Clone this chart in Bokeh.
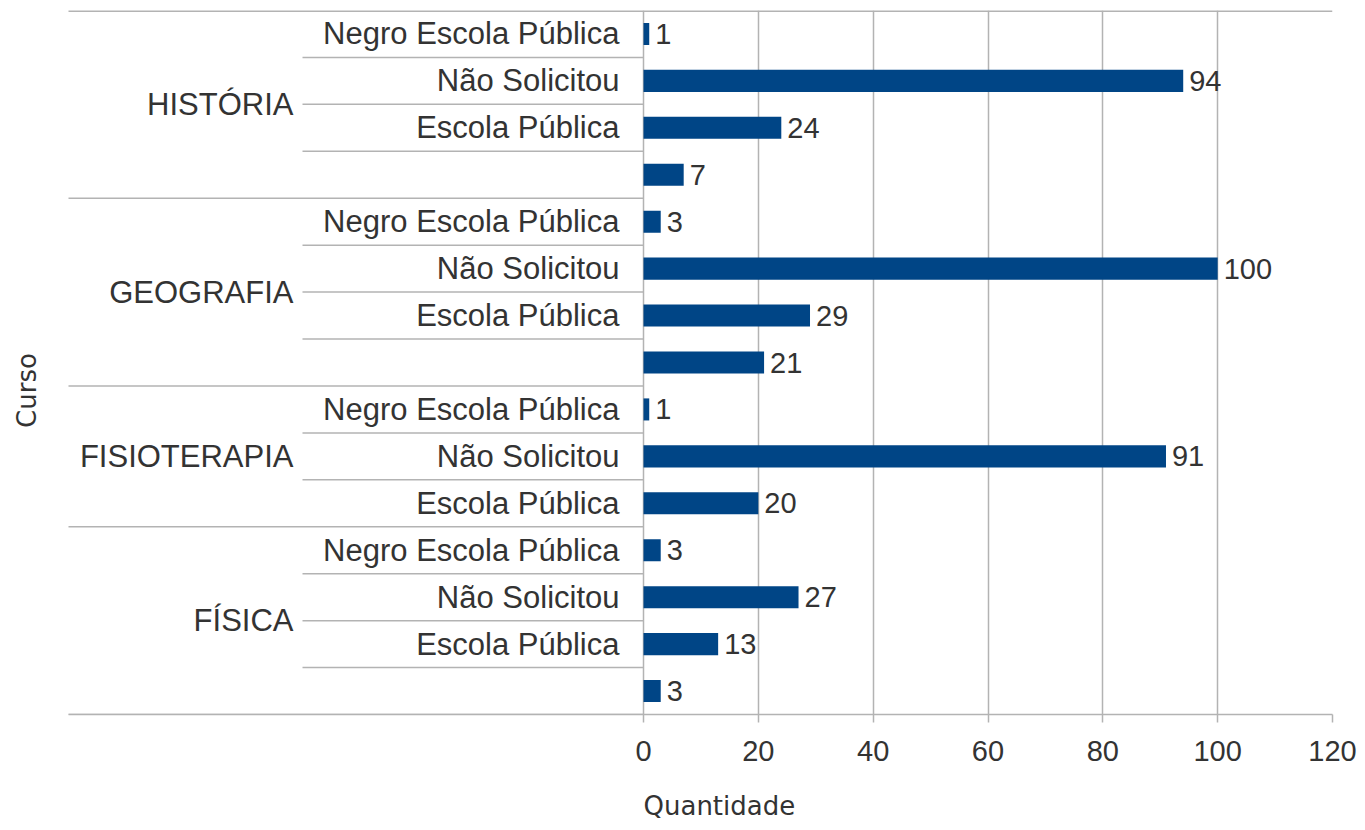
import math
from bokeh.plotting import figure
from bokeh.layouts import column
from bokeh.models import Range1d, FixedTicker, ColumnDataSource
from bokeh.core.properties import value
from bokeh.embed import file_html
from bokeh.resources import INLINE

# ---- data ----
cursos = ["HISTÓRIA", "GEOGRAFIA", "FISIOTERAPIA", "FÍSICA"]
historia_cats = ["Negro Escola Pública", "Não Solicitou", "Escola Pública", ""]
historia_vals = [1, 94, 24, 7]
geografia_cats = ["Negro Escola Pública", "Não Solicitou", "Escola Pública", ""]
geografia_vals = [3, 100, 29, 21]
fisioterapia_cats = ["Negro Escola Pública", "Não Solicitou", "Escola Pública"]
fisioterapia_vals = [1, 91, 20]
fisica_cats = ["Negro Escola Pública", "Não Solicitou", "Escola Pública", ""]
fisica_vals = [3, 27, 13, 3]
x_ticks = [0, 20, 40, 60, 80, 100, 120]
x_title = "Quantidade"
y_title = "Curso"

groups = [
    (cursos[0], historia_cats, historia_vals),
    (cursos[1], geografia_cats, geografia_vals),
    (cursos[2], fisioterapia_cats, fisioterapia_vals),
    (cursos[3], fisica_cats, fisica_vals),
]

# ---- build rows ----
rows_y, rows_v, rows_lab, rows_txt = [], [], [], []
grp_y, grp_lab = [], []
grp_sep, sub_sep = [], []
i = 0
for name, cats, vals in groups:
    start = i
    for c, v in zip(cats, vals):
        rows_y.append(i + 0.5)
        rows_v.append(v)
        rows_lab.append(c)
        rows_txt.append(str(v))
        if i > start:
            sub_sep.append(i)
        i += 1
    grp_y.append((start + i) / 2)
    grp_lab.append(name)
    grp_sep.append(i)
n_rows = i

# ---- layout (pixel positions) ----
PX0 = 643      # pixel of value 0
PXR = 1332     # pixel of value 120 (right edge of frame)
XMAX = 120
SCALE = (PXR - PX0) / XMAX
FRAME_H = 704
ROWPX = FRAME_H / n_rows


def dx(px):
    return (px - PX0) / SCALE


XLEFT = dx(0)
XMIN = dx(68)       # outer separator start
XSUB = dx(302)      # inner separator start
XSUBLAB = dx(619)   # right edge of sub-category labels
XGRPLAB = dx(293)   # right edge of group labels

FONT = "Liberation Sans"
LABEL_FONT = value(FONT)
TXT = "#333333"
GRID = "#b3b3b3"
BAR = "#004586"

p = figure(frame_width=PXR, frame_height=FRAME_H, output_backend="svg", toolbar_location=None,
           x_range=Range1d(XLEFT, XMAX), y_range=Range1d(n_rows, 0),
           y_axis_location=None, min_border_left=0, min_border_right=25,
           min_border_top=10, min_border_bottom=62)
p.outline_line_color = None
p.background_fill_color = "white"

p.xgrid.ticker = FixedTicker(ticks=x_ticks)
p.xgrid.grid_line_color = GRID
p.xgrid.grid_line_width = 1.5
p.ygrid.grid_line_color = None

ax = p.xaxis[0]
ax.ticker = FixedTicker(ticks=x_ticks)
ax.bounds = (XMIN, XMAX)
ax.axis_line_color = GRID
ax.axis_line_width = 1.5
ax.major_tick_line_color = GRID
ax.major_tick_line_width = 1.5
ax.major_tick_out = 8
ax.major_tick_in = 0
ax.minor_tick_line_color = None
ax.major_label_text_font = FONT
ax.major_label_text_font_size = "29px"
ax.major_label_text_color = TXT
ax.major_label_standoff = 18

# top border line and separators
p.segment(x0=[XMIN], x1=[XMAX], y0=[0], y1=[0], line_color=GRID, line_width=3)
p.segment(x0=[XMIN] * len(grp_sep), x1=[0] * len(grp_sep), y0=grp_sep, y1=grp_sep,
          line_color=GRID, line_width=1.5)
p.segment(x0=[XSUB] * len(sub_sep), x1=[0] * len(sub_sep), y0=sub_sep, y1=sub_sep,
          line_color=GRID, line_width=1.5)

src = ColumnDataSource(dict(y=rows_y, v=rows_v, lab=rows_lab, txt=rows_txt,
                            x0=[XSUBLAB] * len(rows_y)))
p.hbar(y="y", left=0, right="v", height=0.47, source=src, fill_color=BAR, line_color=None)
p.text(x="v", y="y", text="txt", source=src, x_offset=6, text_align="left",
       text_baseline="middle", text_font=LABEL_FONT, text_font_size="29px", text_color=TXT)
p.text(x="x0", y="y", text="lab", source=src, text_align="right",
       text_baseline="middle", text_font=LABEL_FONT, text_font_size="31px", text_color=TXT)
gsrc = ColumnDataSource(dict(y=grp_y, lab=grp_lab, x=[XGRPLAB] * len(grp_y)))
p.text(x="x", y="y", text="lab", source=gsrc, text_align="right",
       text_baseline="middle", text_font=LABEL_FONT, text_font_size="31px", text_color=TXT)

# y-axis title (rotated), inside the extended frame
p.text(x=[dx(26)], y=[(390 - 10) / ROWPX], text=[y_title], angle=math.pi / 2,
       text_align="center", text_baseline="middle", text_font=value("DejaVu Sans"),
       text_font_size="26px", text_color=TXT)

# x-axis title in a thin strip below, sharing the x range
p2 = figure(frame_width=PXR, frame_height=46, output_backend="svg", toolbar_location=None,
            x_range=p.x_range, y_range=Range1d(0, 46),
            x_axis_location=None, y_axis_location=None,
            min_border_left=0, min_border_right=25, min_border_top=0, min_border_bottom=0)
p2.outline_line_color = None
p2.grid.visible = False
p2.text(x=[0], y=[17], text=[x_title], text_align="left", text_baseline="middle",
        text_font=value("DejaVu Sans"), text_font_size="26px", text_color=TXT)

layout = column(p, p2, spacing=0)
open("out.html", "w").write(file_html(layout, INLINE))
